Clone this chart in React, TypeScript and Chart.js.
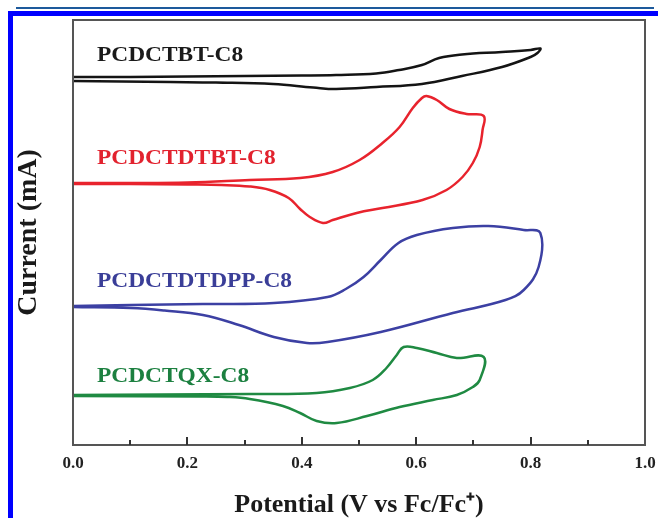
import React, { useEffect, useRef } from 'react';
import { Chart, registerables } from 'chart.js';
Chart.register(...registerables);

// Potential (V vs Fc/Fc+) and current (arbitrary, offset) for each CV loop
const blackX = [0.00, 0.10, 0.20, 0.30, 0.40, 0.46, 0.53, 0.57, 0.61, 0.64, 0.68, 0.75, 0.80, 0.817, 0.812, 0.80, 0.75, 0.68, 0.61, 0.53, 0.46, 0.42, 0.35, 0.25, 0.17, 0.00];
const blackY = [7.36, 7.36, 7.37, 7.38, 7.39, 7.40, 7.43, 7.50, 7.60, 7.74, 7.81, 7.86, 7.90, 7.93, 7.84, 7.76, 7.56, 7.38, 7.22, 7.16, 7.12, 7.15, 7.22, 7.25, 7.26, 7.28];

const redX = [0.00, 0.10, 0.20, 0.309, 0.397, 0.454, 0.501, 0.541, 0.571, 0.594, 0.610, 0.618, 0.636, 0.658, 0.688, 0.718, 0.716, 0.711, 0.699, 0.681, 0.653, 0.611, 0.541, 0.496, 0.454, 0.437, 0.414, 0.397, 0.377, 0.344, 0.309, 0.26, 0.20, 0.10, 0.00];
const redY = [5.24, 5.24, 5.25, 5.30, 5.34, 5.46, 5.70, 6.04, 6.36, 6.74, 6.94, 6.98, 6.90, 6.72, 6.62, 6.58, 6.30, 5.96, 5.64, 5.36, 5.10, 4.90, 4.74, 4.64, 4.50, 4.44, 4.56, 4.72, 4.94, 5.10, 5.17, 5.20, 5.21, 5.22, 5.22];

const blueX = [0.00, 0.101, 0.227, 0.351, 0.445, 0.477, 0.508, 0.538, 0.569, 0.601, 0.664, 0.726, 0.788, 0.817, 0.814, 0.788, 0.756, 0.664, 0.538, 0.445, 0.409, 0.351, 0.290, 0.227, 0.16, 0.101, 0.00];
const blueY = [2.78, 2.80, 2.82, 2.84, 2.96, 3.12, 3.36, 3.70, 4.04, 4.20, 4.34, 4.38, 4.30, 4.24, 3.56, 3.10, 2.90, 2.64, 2.26, 2.06, 2.04, 2.16, 2.40, 2.60, 2.69, 2.74, 2.76];

const greenX = [0.00, 0.309, 0.426, 0.484, 0.524, 0.548, 0.566, 0.578, 0.601, 0.636, 0.671, 0.718, 0.711, 0.699, 0.671, 0.629, 0.571, 0.514, 0.461, 0.426, 0.397, 0.367, 0.309, 0.27, 0.222, 0.00];
const greenY = [1.00, 1.02, 1.04, 1.14, 1.30, 1.54, 1.80, 1.96, 1.94, 1.84, 1.74, 1.76, 1.30, 1.16, 1.00, 0.90, 0.76, 0.58, 0.44, 0.48, 0.64, 0.78, 0.92, 0.96, 0.97, 0.98];

const seriesNames = ['PCDCTBT-C8', 'PCDCTDTBT-C8', 'PCDCTDTDPP-C8', 'PCDCTQX-C8'];
const seriesColors = ['#141414', '#e8232d', '#3c40a3', '#1f8a42'];
const labelColors = ['#1a1a1a', '#e2222e', '#3a3e98', '#1c8040'];

const xTitle = 'Potential (V vs Fc/Fc\u207A)';
const yTitle = 'Current (mA)';

const SERIF = '"Liberation Serif", "Times New Roman", serif';

const zip = (xs: number[], ys: number[]) => xs.map((x, i) => ({ x, y: ys[i] }));

const decorPlugin = {
  id: 'decor',
  afterDraw(chart: any) {
    const { ctx, chartArea, scales } = chart;
    const xs = scales.x;
    const ys = scales.y;
    ctx.save();
    // frame
    ctx.strokeStyle = '#555';
    ctx.lineWidth = 2;
    ctx.strokeRect(chartArea.left, chartArea.top, chartArea.right - chartArea.left, chartArea.bottom - chartArea.top);
    // inward ticks on bottom axis
    ctx.strokeStyle = '#333';
    ctx.lineWidth = 2;
    xs.ticks.forEach((t: any) => {
      const v = Math.round(t.value * 10);
      if (v <= 0 || v >= 10) return;
      const px = Math.round(xs.getPixelForValue(t.value));
      const len = v % 2 === 0 ? 8 : 5;
      ctx.beginPath();
      ctx.moveTo(px, chartArea.bottom);
      ctx.lineTo(px, chartArea.bottom - len);
      ctx.stroke();
    });
    // series labels
    const anchors = [[0.042, 7.80], [0.042, 5.74], [0.042, 3.28], [0.042, 1.38]];
    ctx.font = 'bold 20px ' + SERIF;
    ctx.textBaseline = 'middle';
    ctx.textAlign = 'left';
    seriesNames.forEach((name, i) => {
      const px = xs.getPixelForValue(anchors[i][0]);
      const py = ys.getPixelForValue(anchors[i][1]);
      ctx.save();
      ctx.translate(px, py);
      ctx.scale(1.17, 1);
      ctx.fillStyle = labelColors[i];
      ctx.fillText(name, 0, 1);
      ctx.restore();
    });
    ctx.restore();
  },
};

export default function App() {
  const ref = useRef<HTMLCanvasElement | null>(null);
  useEffect(() => {
    if (!ref.current) return;
    const mk = (xs: number[], ys: number[], i: number) => ({
      label: seriesNames[i],
      data: zip(xs, ys),
      showLine: true,
      borderColor: seriesColors[i],
      backgroundColor: seriesColors[i],
      borderWidth: 2.5,
      pointRadius: 0,
      tension: 0.4,
      fill: false,
    });
    const chart = new Chart(ref.current, {
      type: 'scatter',
      data: {
        datasets: [
          mk(blackX, blackY, 0),
          mk(redX, redY, 1),
          mk(blueX, blueY, 2),
          mk(greenX, greenY, 3),
        ],
      },
      options: {
        animation: false,
        responsive: false,
        devicePixelRatio: 1,
        layout: { padding: { top: 20, right: 13, left: 0, bottom: 0 } },
        plugins: { legend: { display: false }, tooltip: { enabled: false } },
        scales: {
          x: {
            type: 'linear',
            min: 0,
            max: 1,
            grid: { display: false, drawTicks: false },
            border: { display: false },
            ticks: {
              stepSize: 0.1,
              autoSkip: false,
              maxRotation: 0,
              padding: 8,
              color: '#222',
              font: { family: SERIF, size: 17, weight: 'bold' },
              callback: (v: any) => (Math.round(Number(v) * 10) % 2 === 0 ? Number(v).toFixed(1) : ''),
            },
            title: {
              display: true,
              text: xTitle,
              color: '#1a1a1a',
              font: { family: SERIF, size: 26, weight: 'bold', lineHeight: 1.0 },
              padding: { top: 0, bottom: 0 },
            },
            afterFit: (s: any) => { s.height = 73; s.paddingRight = 0; s.paddingLeft = 0; },
          },
          y: {
            type: 'linear',
            min: 0,
            max: 8.5,
            grid: { display: false, drawTicks: false },
            border: { display: false },
            ticks: { display: false },
            title: {
              display: true,
              text: yTitle,
              color: '#1a1a1a',
              font: { family: SERIF, size: 28, weight: 'bold' },
              padding: { top: 12, bottom: 0 },
            },
            afterFit: (s: any) => { s.width = 73; },
          },
        },
      },
      plugins: [decorPlugin],
    } as any);
    return () => chart.destroy();
  }, []);

  return (
    <div style={{ position: 'absolute', left: 0, top: 0, width: 658, height: 518, overflow: 'hidden', background: '#fff' }}>
      <div style={{ position: 'absolute', left: 16, top: 7, width: 638, height: 2, background: '#1d5a9c' }} />
      <div style={{ position: 'absolute', left: 8, top: 11, width: 800, height: 700, borderLeft: '5px solid #0000ff', borderTop: '5px solid #0000ff', boxSizing: 'border-box' }} />
      <canvas ref={ref} width={658} height={518} style={{ position: 'absolute', left: 0, top: 0, width: 658, height: 518 }} />
    </div>
  );
}
